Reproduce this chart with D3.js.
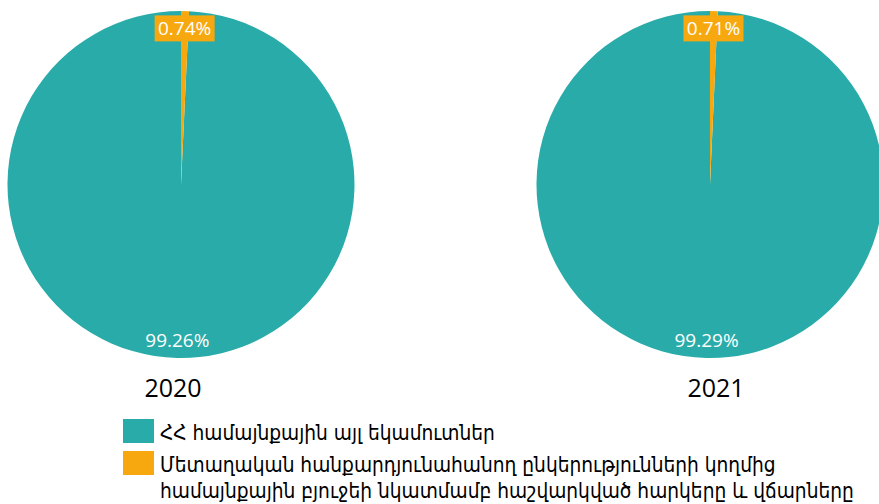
<!DOCTYPE html>
<html>
<head>
<meta charset="utf-8">
<script src="https://cdn.jsdelivr.net/npm/d3@7"></script>
<style>
  html, body { margin: 0; padding: 0; background: #fff; }
  svg { display: block; }
</style>
</head>
<body>
<div id="chart"></div>
<script>
const years = ["2020", "2021"];
const categories = [
  "ՀՀ համայնքային այլ եկամուտներ",
  "Մետաղական հանքարդյունահանող ընկերությունների կողմից համայնքային բյուջեի նկատմամբ հաշվարկված հարկերը և վճարները"
];
const legendLines = [
  ["ՀՀ համայնքային այլ եկամուտներ"],
  ["Մետաղական հանքարդյունահանող ընկերությունների կողմից", "համայնքային բյուջեի նկատմամբ հաշվարկված հարկերը և վճարները"]
];
const values2020 = [99.26, 0.74];
const values2021 = [99.29, 0.71];
const colors = ["#29aca9", "#f7a80f"];

const width = 879;
const height = 504;
const radius = 173.5;
const centers = [{ x: 181, y: 184.5 }, { x: 710, y: 184.5 }];

const svg = d3
  .select("#chart")
  .append("svg")
  .attr("width", width)
  .attr("height", height)
  .style("font-family", "'Open Sans', 'DejaVu Sans', sans-serif");

// small slice first so it starts at 12 o'clock and runs clockwise
const pie = d3
  .pie()
  .value((d) => d.value)
  .sort((a, b) => b.i - a.i);

const arc = d3.arc().innerRadius(0).outerRadius(radius);
const labelArc = d3.arc().innerRadius(radius * 0.9).outerRadius(radius * 0.9);

[values2020, values2021].forEach((vals, k) => {
  const data = vals.map((v, i) => ({ value: v, i }));
  const g = svg
    .append("g")
    .attr("transform", `translate(${centers[k].x},${centers[k].y})`);

  const arcs = pie(data);

  g.selectAll("path")
    .data(arcs)
    .join("path")
    .attr("d", arc)
    .attr("fill", (d) => colors[d.data.i]);

  const lbl = g
    .selectAll("g.lbl")
    .data(arcs)
    .join("g")
    .attr("class", "lbl")
    .attr("transform", (d) => `translate(${labelArc.centroid(d)})`);

  lbl
    .filter((d) => d.data.i === 1)
    .append("rect")
    .attr("x", -30)
    .attr("y", -13)
    .attr("width", 60)
    .attr("height", 26)
    .attr("fill", colors[1]);

  lbl
    .append("text")
    .attr("text-anchor", "middle")
    .attr("dy", "0.36em")
    .attr("fill", "#fff")
    .style("font-size", "19px")
    .text((d) => `${d.data.value.toFixed(2)}%`);

  svg
    .append("text")
    .attr("x", centers[k].x + (k === 0 ? -8 : 6))
    .attr("y", 397)
    .attr("text-anchor", "middle")
    .attr("fill", "#000")
    .style("font-size", "25px")
    .text(years[k]);
});

// legend
const legend = svg.append("g").attr("transform", "translate(123,419)");
const rowY = [0, 32];
categories.forEach((c, i) => {
  const row = legend.append("g").attr("transform", `translate(0,${rowY[i]})`);
  row
    .append("rect")
    .attr("width", 31)
    .attr("height", 24)
    .attr("fill", colors[i]);
  const t = row
    .append("text")
    .attr("x", 37)
    .attr("y", 21)
    .attr("fill", "#000")
    .style("font-family", "'DejaVu Sans Condensed', 'DejaVu Sans', sans-serif")
    .style("font-size", "20.7px");
  legendLines[i].forEach((line, j) => {
    t.append("tspan").attr("x", 37).attr("dy", j === 0 ? 0 : 26).text(line);
  });
});
</script>
</body>
</html>
